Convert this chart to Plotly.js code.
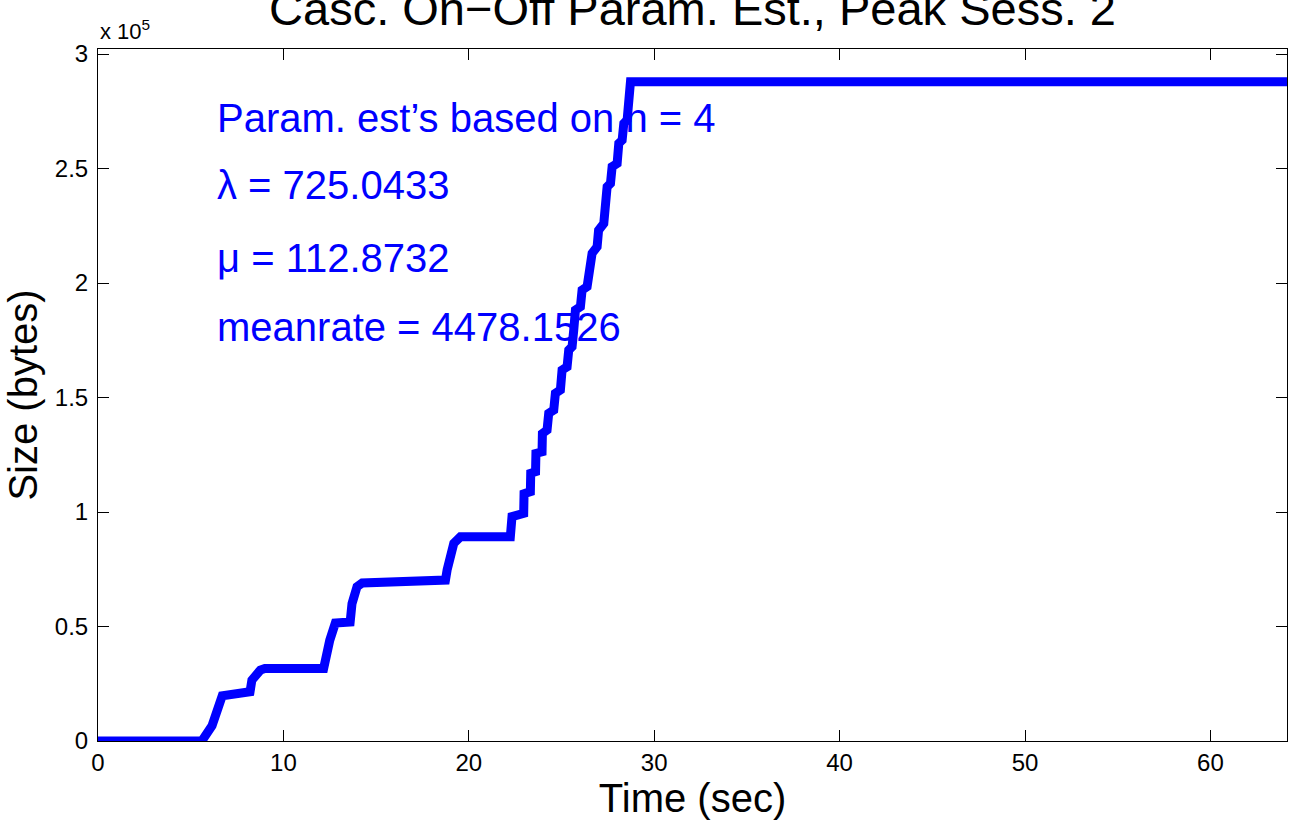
<!DOCTYPE html>
<html>
<head>
<meta charset="utf-8">
<script src="https://cdn.plot.ly/plotly-3.0.1.min.js"></script>
<style>
html,body{margin:0;padding:0;background:#fff;}
#chart{width:1291px;height:829px;}
</style>
</head>
<body>
<div id="chart"></div>
<script>
// Cumulative size curve (time in sec, size in bytes)
const timeSec = [0, 5.6, 6.15, 6.5, 6.7, 8.2, 8.3, 8.76, 9.0, 12.17, 12.27, 12.5, 12.8, 13.6, 13.7, 13.97, 14.25,
  18.65, 18.74, 18.83, 19.0, 19.19, 19.55, 22.24, 22.33, 22.96, 22.98, 23.32, 23.34, 23.6, 23.62, 23.95, 23.97,
  24.22, 24.31, 24.58, 24.67, 24.94, 25.03, 25.3, 25.39, 25.57, 25.66, 25.75, 26.02, 26.11, 26.38, 26.56, 26.65,
  26.92, 27.0, 27.28, 27.37, 27.46, 27.64, 27.73, 28.0, 28.09, 28.27, 28.36, 28.54, 28.62, 28.72, 28.72, 64.13];
const sizeBytes = [0, 0, 6700, 15000, 19700, 21500, 26600, 31000, 31700, 31700, 37500, 44000, 51500, 52000, 60000, 67400, 69000,
  69500, 70300, 74700, 80500, 86300, 89200, 89200, 98000, 99400, 108000, 108900, 116900, 117600, 125600, 126300, 134300,
  135800, 143100, 144500, 151800, 153300, 162000, 163400, 170700, 172200, 179500, 188200, 189700, 196900, 198400, 207100, 213000,
  215800, 223100, 226000, 234000, 242000, 243500, 250800, 252200, 261000, 262400, 269700, 271200, 279900, 281400, 287900, 287900];

const xTicks = [0, 10, 20, 30, 40, 50, 60];
const yTickVals = [0, 50000, 100000, 150000, 200000, 250000, 300000];
const yTickText = ['0', '0.5', '1', '1.5', '2', '2.5', '3'];

const infoLines = ["Param. est\u2019s based on n = 4", "\u03bb = 725.0433", "\u03bc = 112.8732", "meanrate = 4478.1526"];
const infoY = [272000, 243000, 211000, 181000];

const FONT = 'Liberation Sans, Arial, Helvetica, sans-serif';

const annotations = infoLines.map((t, i) => ({
  text: t, x: 6.3, y: infoY[i], xref: 'x', yref: 'y',
  xanchor: 'left', yanchor: 'middle', showarrow: false,
  font: {family: FONT, size: 40, color: '#0000ff'}
}));
annotations.push({
  text: 'x 10<sup>5</sup>', xref: 'paper', yref: 'paper', x: 0, y: 1.0,
  xanchor: 'left', yanchor: 'bottom', yshift: 3, showarrow: false,
  font: {family: FONT, size: 22, color: '#000'}
});

const trace = {
  x: timeSec, y: sizeBytes, type: 'scatter', mode: 'lines',
  line: {color: '#0000ff', width: 9, shape: 'linear'},
  hoverinfo: 'skip'
};

const axisCommon = {
  showline: true, linecolor: '#000', linewidth: 1, mirror: 'ticks',
  ticks: 'inside', ticklen: 11, tickwidth: 1, tickcolor: '#000',
  showgrid: false, zeroline: false,
  tickfont: {family: FONT, size: 24, color: '#000'}
};

const layout = {
  width: 1291, height: 829,
  margin: {l: 98, r: 4, t: 49, b: 88, pad: 0},
  paper_bgcolor: '#fff', plot_bgcolor: '#fff',
  showlegend: false,
  title: {
    text: 'Casc. On\u2212Off Param. Est., Peak Sess. 2',
    font: {family: FONT, size: 47, color: '#000'},
    xref: 'paper', x: 0.5, xanchor: 'center',
    yref: 'container', y: 0.99, yanchor: 'middle'
  },
  xaxis: Object.assign({}, axisCommon, {
    range: [0, 64.13], tickmode: 'array', tickvals: xTicks,
    title: {text: 'Time (sec)', font: {family: FONT, size: 40, color: '#000'}, standoff: 7}
  }),
  yaxis: Object.assign({}, axisCommon, {
    range: [0, 302200], tickmode: 'array', tickvals: yTickVals, ticktext: yTickText,
    ticklabelstandoff: 4,
    title: {text: 'Size (bytes)', font: {family: FONT, size: 40, color: '#000'}, standoff: 4}
  }),
  annotations: annotations
};

Plotly.newPlot('chart', [trace], layout, {displayModeBar: false, staticPlot: true});
</script>
</body>
</html>
